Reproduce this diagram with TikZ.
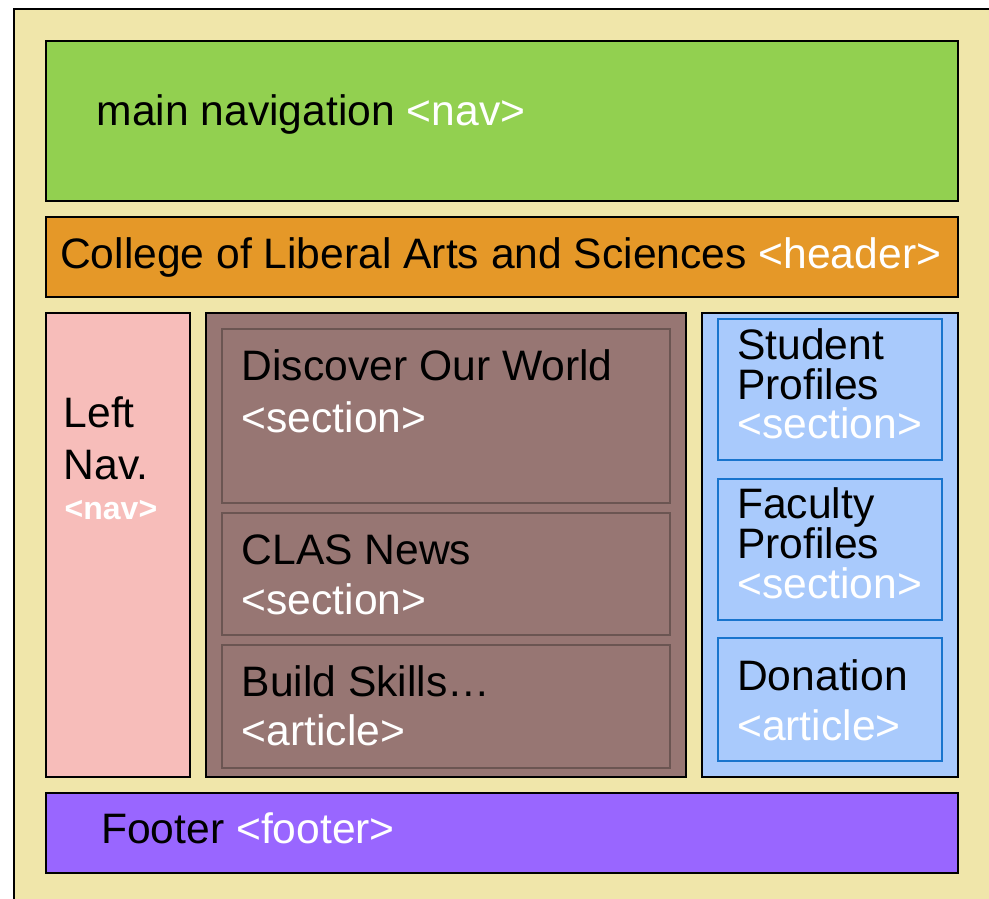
\documentclass[tikz,border=0pt]{standalone}
\usepackage{fontspec}
\setmainfont{Liberation Sans}
\definecolor{bgkhaki}{HTML}{F0E6AA}
\definecolor{navgreen}{HTML}{92D050}
\definecolor{hdrorange}{HTML}{E59828}
\definecolor{leftpink}{HTML}{F7BDBA}
\definecolor{midbrown}{HTML}{977673}
\definecolor{brownedge}{HTML}{6B5552}
\definecolor{sideblue}{HTML}{A9CAFC}
\definecolor{blueedge}{HTML}{1874CD}
\definecolor{footpurple}{HTML}{9966FF}
\tikzset{
  region/.style={draw=black, line width=1.6pt},
  subbrown/.style={draw=brownedge, line width=1.3pt, fill=midbrown},
  subblue/.style={draw=blueedge, line width=1.5pt, fill=sideblue},
  txt/.style={anchor=base west, inner sep=0pt, font=\fontsize{42.6}{48}\selectfont},
  tag/.style={text=white},
}
\begin{document}
\begin{tikzpicture}[x=1pt,y=-1pt]
\useasboundingbox (0,0) rectangle (989,899);
\clip (0,0) rectangle (989,899);
\fill[white] (0,0) rectangle (989,899);
% page
\draw[region, fill=bgkhaki] (14,9) rectangle (1010,920);
% main nav
\draw[region, fill=navgreen] (46,41) rectangle (958,201);
\node[txt] (mainnav) at (96.5,125) {main navigation \textcolor{white}{<nav>}};
% header
\draw[region, fill=hdrorange] (46,217) rectangle (958,297);
\node[txt] (header) at (60,268) {College of Liberal Arts and Sciences \textcolor{white}{<header>}};
% left nav
\draw[region, fill=leftpink] (46,313) rectangle (190,777);
\node[txt] (left1) at (63.5,427) {Left};
\node[txt] (left2) at (63.5,479) {Nav.};
\node[txt, tag, font=\fontsize{32}{36}\selectfont\bfseries] (left3) at (64.5,519) {<nav>};
% middle
\draw[region, fill=midbrown] (206,313) rectangle (686,777);
\draw[subbrown] (222,329) rectangle (670,503);
\draw[subbrown] (222,513) rectangle (670,635);
\draw[subbrown] (222,645) rectangle (670,768);
\node[txt] (disc1) at (241.5,380) {Discover Our World};
\node[txt, tag] (disc2) at (241.5,432) {<section>};
\node[txt] (news1) at (241.5,564) {CLAS News};
\node[txt, tag] (news2) at (241.5,614) {<section>};
\node[txt] (build1) at (241.5,696) {Build Skills…};
\node[txt, tag] (build2) at (241.5,745) {<article>};
% right
\draw[region, fill=sideblue] (702,313) rectangle (958,777);
\draw[subblue] (718,319) rectangle (942,460);
\draw[subblue] (718,479) rectangle (942,620);
\draw[subblue] (718,638) rectangle (942,761);
\node[txt] (stud1) at (737,359) {Student};
\node[txt] (stud2) at (737,399) {Profiles};
\node[txt, tag] (stud3) at (737,438) {<section>};
\node[txt] (fac1) at (737,518) {Faculty};
\node[txt] (fac2) at (737,558) {Profiles};
\node[txt, tag] (fac3) at (737,598) {<section>};
\node[txt] (don1) at (737,690) {Donation};
\node[txt, tag] (don2) at (737,740) {<article>};
% footer
\draw[region, fill=footpurple] (46,793) rectangle (958,873);
\node[txt] (footer) at (101,843) {Footer \textcolor{white}{<footer>}};
\end{tikzpicture}
\end{document}
